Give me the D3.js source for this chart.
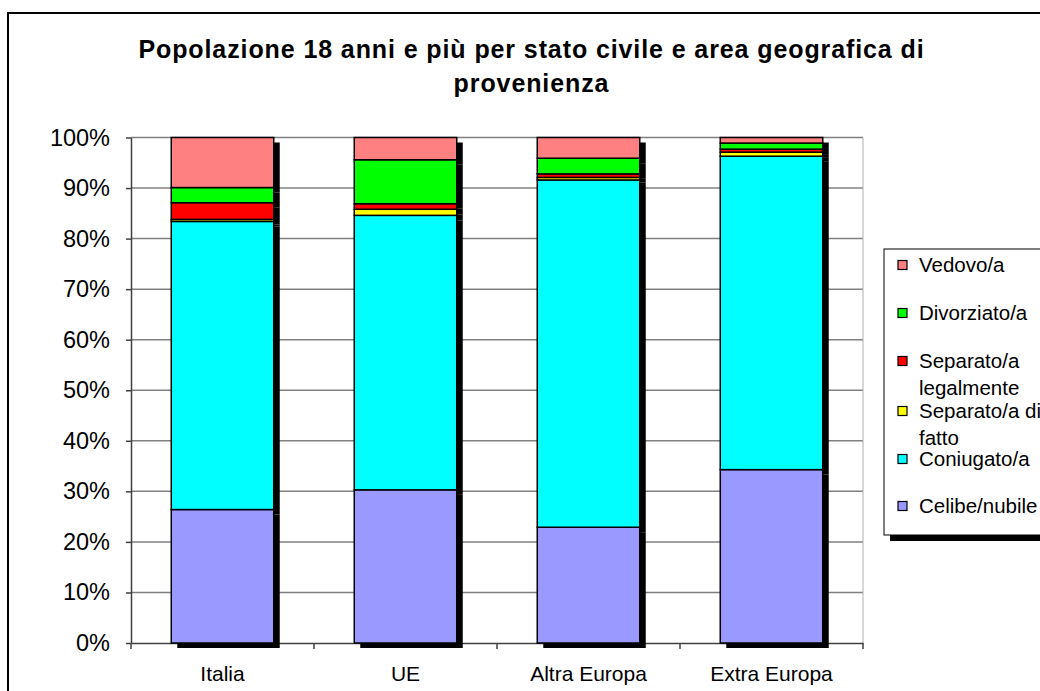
<!DOCTYPE html>
<html>
<head>
<meta charset="utf-8">
<script src="https://cdn.jsdelivr.net/npm/d3@7"></script>
<style>
  body { margin: 0; background: #fff; }
  svg { display: block; font-family: "Liberation Sans", Arial, sans-serif; }
</style>
</head>
<body>
<div id="chart"></div>
<script>
var categories = ["Italia", "UE", "Altra Europa", "Extra Europa"];
var celibe     = [26.4, 30.3, 22.9, 34.3];
var coniugato  = [57.0, 54.3, 68.7, 62.0];
var sepFatto   = [0.4, 1.2, 0.5, 0.8];
var sepLegale  = [3.3, 1.1, 0.7, 0.6];
var divorziato = [3.0, 8.7, 3.1, 1.2];
var vedovo     = [9.9, 4.4, 4.1, 1.1];
var seriesKeys = ["celibe", "coniugato", "sepFatto", "sepLegale", "divorziato", "vedovo"];
var seriesLabels = [["Celibe/nubile"], ["Coniugato/a"], ["Separato/a di", "fatto"], ["Separato/a", "legalmente"], ["Divorziato/a"], ["Vedovo/a"]];
var seriesColors = ["#9999FF", "#00FFFF", "#FFFF00", "#FF0000", "#00FF00", "#FF8080"];
var yTicks = [0, 10, 20, 30, 40, 50, 60, 70, 80, 90, 100];
var titleLines = ["Popolazione 18 anni e più per stato civile e area geografica di", "provenienza"];

var width = 1040, height = 691;
var plot = {left: 131, right: 863, top: 137.5, bottom: 643};

var data = categories.map(function(c, i) {
  return {cat: c, celibe: celibe[i], coniugato: coniugato[i], sepFatto: sepFatto[i],
          sepLegale: sepLegale[i], divorziato: divorziato[i], vedovo: vedovo[i]};
});

var svg = d3.select("#chart").append("svg")
  .attr("width", width).attr("height", height);

// outer frame
svg.append("rect").attr("x", 8).attr("y", 13).attr("width", 1100).attr("height", 800)
  .attr("fill", "none").attr("stroke", "#000").attr("stroke-width", 2);

// title
svg.append("g").selectAll("text").data(titleLines).enter().append("text")
  .attr("x", 531.5).attr("y", function(d, i) { return 57.5 + i * 34; })
  .attr("text-anchor", "middle")
  .attr("font-weight", "bold").attr("font-size", 25)
  .attr("letter-spacing", 0.9)
  .text(function(d) { return d; });

var x = d3.scaleBand().domain(categories).range([plot.left, plot.right]).padding(0);
var y = d3.scaleLinear().domain([0, 100]).range([plot.bottom, plot.top]);
var barW = x.bandwidth() * 0.56;

// grid
svg.append("g").selectAll("line").data(yTicks.filter(function(d) { return d > 0; })).enter().append("line")
  .attr("x1", plot.left).attr("x2", plot.right)
  .attr("y1", function(d) { return y(d); }).attr("y2", function(d) { return y(d); })
  .attr("stroke", "#808080").attr("stroke-width", 1.5);
svg.append("line").attr("x1", plot.right).attr("x2", plot.right)
  .attr("y1", plot.top).attr("y2", plot.bottom)
  .attr("stroke", "#b0b0b0").attr("stroke-width", 1);

var yAxis = d3.axisLeft(y).tickValues(yTicks).tickSize(5).tickSizeOuter(0)
  .tickFormat(function(d) { return d + "%"; });
var gy = svg.append("g").attr("transform", "translate(" + plot.left + ",0)").call(yAxis);
gy.select(".domain").attr("stroke", "#404040").attr("stroke-width", 1.5);
gy.selectAll(".tick line").attr("stroke", "#404040").attr("stroke-width", 1.5);
gy.selectAll(".tick text").attr("font-size", 23.5).attr("font-family", "Liberation Sans, Arial, sans-serif")
  .attr("fill", "#000").attr("x", -21);

var xAxis = d3.axisBottom(x).tickSize(0).tickSizeOuter(0);
var gx = svg.append("g").attr("transform", "translate(0," + plot.bottom + ")").call(xAxis);
gx.select(".domain").attr("stroke", "#404040").attr("stroke-width", 1.5);
gx.selectAll(".tick text").attr("font-size", 21).attr("font-family", "Liberation Sans, Arial, sans-serif")
  .attr("fill", "#000").attr("dy", 0).attr("y", 38);
// boundary ticks between categories
var bounds = categories.map(function(c) { return x(c); }).concat([plot.right]);
svg.append("g").selectAll("line").data(bounds).enter().append("line")
  .attr("x1", function(d) { return d; }).attr("x2", function(d) { return d; })
  .attr("y1", plot.bottom).attr("y2", plot.bottom + 6)
  .attr("stroke", "#404040").attr("stroke-width", 1.5);

var stack = d3.stack().keys(seriesKeys);
var layers = stack(data);

function barX(d) { return x(d.data.cat) + (x.bandwidth() - barW) / 2; }

// shadows
layers.forEach(function(layer) {
  svg.append("g").selectAll("rect").data(layer).enter().append("rect")
    .attr("x", function(d) { return barX(d) + 6; })
    .attr("y", function(d) { return y(d[1]) + 5; })
    .attr("width", barW)
    .attr("height", function(d) { return y(d[0]) - y(d[1]); })
    .attr("fill", "#000");
});

// segments
layers.forEach(function(layer, i) {
  svg.append("g").selectAll("rect").data(layer).enter().append("rect")
    .attr("x", barX)
    .attr("y", function(d) { return y(d[1]); })
    .attr("width", barW)
    .attr("height", function(d) { return y(d[0]) - y(d[1]); })
    .attr("fill", seriesColors[i])
    .attr("stroke", "#000").attr("stroke-width", 1.5);
});

// legend
var lg = svg.append("g");
lg.append("rect").attr("x", 890).attr("y", 255).attr("width", 200).attr("height", 286).attr("fill", "#000");
lg.append("rect").attr("x", 884).attr("y", 249).attr("width", 200).attr("height", 286)
  .attr("fill", "#fff").attr("stroke", "#000").attr("stroke-width", 1);
var legendY = [506, 459, 411, 361, 313, 265];
seriesKeys.forEach(function(k, i) {
  var cy = legendY[i];
  lg.append("rect").attr("x", 898).attr("y", cy - 4.5).attr("width", 9).attr("height", 9)
    .attr("fill", seriesColors[i]).attr("stroke", "#000").attr("stroke-width", 1.2);
  seriesLabels[i].forEach(function(line, j) {
    lg.append("text").attr("x", 919).attr("y", cy + 7 + j * 27)
      .attr("font-size", 20.5).text(line);
  });
});
</script>
</body>
</html>
